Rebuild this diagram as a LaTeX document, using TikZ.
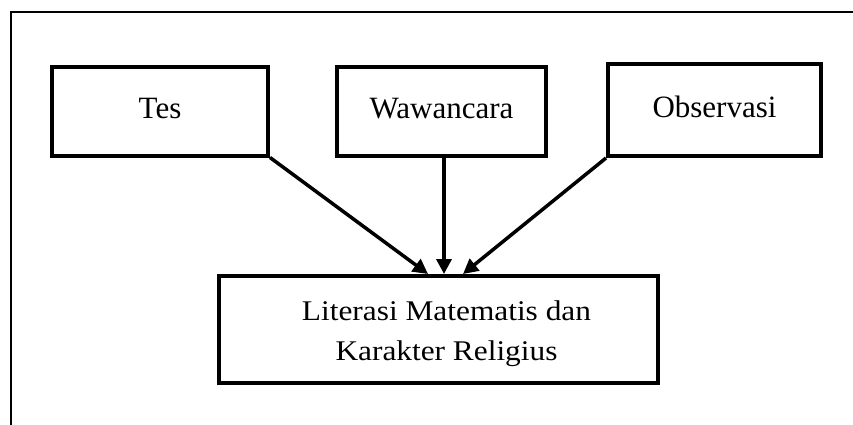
\documentclass[tikz,border=0pt]{standalone}
\usepackage{fontspec}
\setmainfont{Liberation Serif}
\newfontfamily\widefont[FakeStretch=1.1]{Liberation Serif}
\usetikzlibrary{arrows.meta,calc}
\begin{document}
\begin{tikzpicture}[x=1pt,y=-1pt,
  box/.style={draw,line width=4pt,rectangle,inner sep=0pt,
    font=\fontsize{31}{40}\selectfont,text height=21pt,text depth=7pt},
  arr/.style={line width=3.5pt,-{Triangle[length=15pt,width=15pt]}},
  txt/.style={align=center,inner sep=0pt,font=\widefont\fontsize{28.5}{39.7}\selectfont}]
\useasboundingbox (0,0) rectangle (853,424);
\fill[white] (0,0) rectangle (853,424);
\draw[line width=2.6pt] (11,440) |- (870,12);
\node[box,minimum width=216pt,minimum height=89pt] (tes) at (160,111) {Tes};
\node[box,minimum width=209pt,minimum height=89pt] (waw) at (441.5,111.5) {Wawancara};
\node[box,minimum width=213pt,minimum height=92pt] (obs) at (714.5,110) {Observasi};
\node[box,minimum width=439pt,minimum height=107pt] (lit) at (438.5,329.5) {};
\node[txt] (littext) at (446.5,334) {Literasi Matematis dan\\Karakter Religius};
\draw[arr] (tes.south east) -- ([xshift=-10.5pt]lit.north);
\draw[arr] ([xshift=2.5pt]waw.south) -- ([xshift=5.5pt]lit.north);
\draw[arr] (obs.south west) -- ([xshift=24.5pt]lit.north);
\end{tikzpicture}
\end{document}
